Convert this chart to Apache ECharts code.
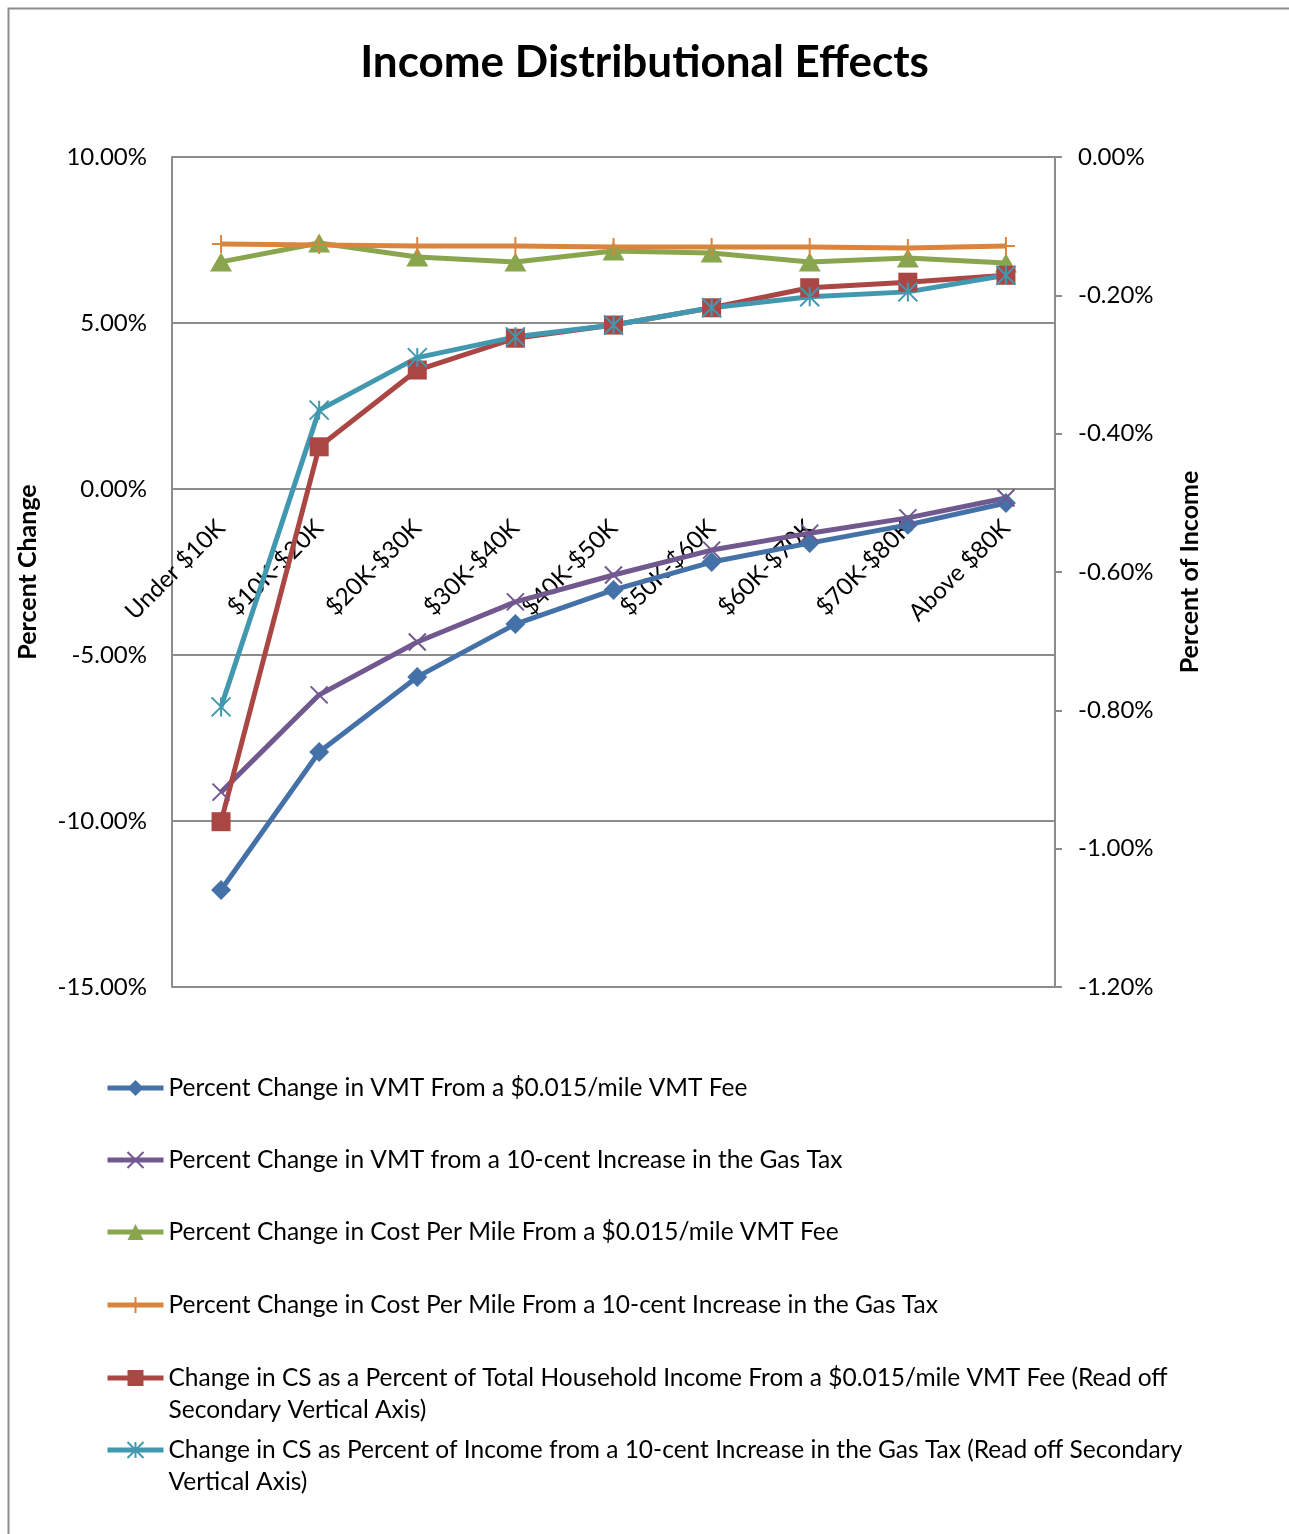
<!DOCTYPE html>
<html>
<head>
<meta charset="utf-8">
<title>Income Distributional Effects</title>
<script src="https://cdn.jsdelivr.net/npm/echarts@6/dist/echarts.min.js"></script>
<style>
  html, body { margin: 0; padding: 0; background: #ffffff; }
  #chart { width: 1289px; height: 1534px; }
</style>
</head>
<body>
<div id="chart"></div>
<script>
// Income brackets on the category axis
const categories = ['Under $10K', '$10K-$20K', '$20K-$30K', '$30K-$40K', '$40K-$50K',
  '$50K-$60K', '$60K-$70K', '$70K-$80K', 'Above $80K'];

// Primary axis series (percent change)
const vmtChangeVmtFee = [-12.08, -7.92, -5.66, -4.07, -3.04, -2.20, -1.63, -1.08, -0.42];
const vmtChangeGasTax = [-9.13, -6.20, -4.61, -3.40, -2.59, -1.84, -1.33, -0.87, -0.27];
const costPerMileVmtFee = [6.84, 7.41, 6.99, 6.84, 7.17, 7.11, 6.84, 6.96, 6.81];
const costPerMileGasTax = [7.38, 7.35, 7.32, 7.32, 7.29, 7.29, 7.29, 7.26, 7.32];

// Secondary axis series (percent of income)
const csIncomeVmtFee = [-0.961, -0.419, -0.308, -0.262, -0.243, -0.218, -0.189, -0.181, -0.171];
const csIncomeGasTax = [-0.795, -0.366, -0.290, -0.260, -0.243, -0.218, -0.202, -0.195, -0.171];

// Axis ranges
const leftAxis = { min: -15, max: 10, interval: 5 };
const rightAxis = { min: -1.2, max: 0, interval: 0.2 };

const names = [
  'Percent Change in VMT From a $0.015/mile VMT Fee',
  'Percent Change in VMT from a 10-cent Increase in the Gas Tax',
  'Percent Change in Cost Per Mile From a $0.015/mile VMT Fee',
  'Percent Change in Cost Per Mile From a 10-cent Increase in the Gas Tax',
  'Change in CS as a Percent of Total Household Income From a $0.015/mile VMT Fee (Read off Secondary Vertical Axis)',
  'Change in CS as Percent of Income from a 10-cent Increase in the Gas Tax (Read off Secondary Vertical Axis)'
];
// Where the two long legend entries wrap (leading blank line keeps the
// icon level with the first line of text)
const wrapped = {
  4: '\nChange in CS as a Percent of Total Household Income From a $0.015/mile VMT Fee (Read off\nSecondary Vertical Axis)',
  5: '\nChange in CS as Percent of Income from a 10-cent Increase in the Gas Tax (Read off Secondary\nVertical Axis)'
};

const FONT = 'Lato';
const GRID = '#8c8c8c';
const colors = ['#4472a8', '#71588f', '#89a54e', '#db843d', '#aa4643', '#4198af'];

const crossPath = 'path://M0,0L10,10M10,0L0,10';
const plusPath = 'path://M5,0L5,10M0,5L10,5';
const starPath = 'path://M0,0L10,10M10,0L0,10M5,0L5,10';

// Plot area
const plot = { left: 172, top: 157, right: 1055, bottom: 987 };
const plotHeight = plot.bottom - plot.top;
// Category axis crosses the primary value axis at zero
const zeroOffset = -(0 - leftAxis.min) / (leftAxis.max - leftAxis.min) * plotHeight;

function lineSeries(i, data, yIdx, symbol, size, strokeOnly) {
  return {
    name: names[i],
    type: 'line',
    yAxisIndex: yIdx,
    data: data,
    symbol: symbol,
    symbolSize: size,
    showAllSymbol: true,
    color: colors[i],
    lineStyle: { color: colors[i], width: 5 },
    itemStyle: strokeOnly
      ? { color: colors[i], borderColor: colors[i], borderWidth: 2 }
      : { color: colors[i] },
    emphasis: { disabled: true },
    animation: false
  };
}

// One legend block per entry so each row sits at its own height
const legendRows = [1088, 1160, 1232, 1305, 1378, 1450];
const LEGEND_LINE = 32;
const legends = names.map((n, i) => {
  const twoLine = wrapped[i] !== undefined;
  return {
    data: [n],
    orient: 'vertical',
    left: 105,
    top: legendRows[i] - (twoLine ? LEGEND_LINE * 1.5 : LEGEND_LINE / 2),
    padding: 0,
    itemWidth: 56,
    itemHeight: 20,
    itemGap: 0,
    selectedMode: false,
    lineStyle: { width: 5 },
    formatter: (name) => (twoLine ? wrapped[i] : name),
    textStyle: {
      fontFamily: FONT,
      fontSize: 24.5,
      color: '#000',
      lineHeight: LEGEND_LINE
    }
  };
});

const chart = echarts.init(document.getElementById('chart'), null, { renderer: 'canvas' });
chart.setOption({
  backgroundColor: '#ffffff',
  animation: false,
  title: {
    text: 'Income Distributional Effects',
    left: 'center',
    top: 36,
    textStyle: { fontFamily: FONT, fontWeight: 'bold', fontSize: 44, color: '#000' }
  },
  graphic: [{
    type: 'rect',
    left: 6, top: 6,
    shape: { width: 1300, height: 1545 },
    style: { fill: 'none', stroke: '#8c8c8c', lineWidth: 2 },
    silent: true
  }],
  legend: legends,
  grid: {
    left: plot.left, right: 1289 - plot.right, top: plot.top, bottom: 1534 - plot.bottom,
    containLabel: false
  },
  xAxis: {
    type: 'category',
    data: categories,
    boundaryGap: true,
    position: 'bottom',
    offset: zeroOffset,
    axisLine: { show: true, onZero: false, lineStyle: { color: GRID, width: 2 } },
    axisTick: { show: false },
    axisLabel: {
      interval: 0, rotate: 45, margin: 35,
      fontFamily: FONT, fontSize: 24, color: '#000'
    },
    splitLine: { show: false }
  },
  yAxis: [{
    type: 'value',
    position: 'left',
    min: leftAxis.min, max: leftAxis.max, interval: leftAxis.interval,
    name: 'Percent Change',
    nameLocation: 'middle',
    nameRotate: 90,
    nameGap: 132,
    nameTextStyle: { fontFamily: FONT, fontWeight: 'bold', fontSize: 25, color: '#000' },
    axisLine: { show: true, lineStyle: { color: GRID, width: 2 } },
    axisTick: { show: false },
    axisLabel: {
      margin: 25, fontFamily: FONT, fontSize: 24, color: '#000',
      formatter: (v) => v.toFixed(2) + '%'
    },
    splitLine: { show: true, lineStyle: { color: GRID, width: 2 } }
  }, {
    type: 'value',
    position: 'right',
    min: rightAxis.min, max: rightAxis.max, interval: rightAxis.interval,
    name: 'Percent of Income',
    nameLocation: 'middle',
    nameRotate: 90,
    nameGap: 122,
    nameTextStyle: { fontFamily: FONT, fontWeight: 'bold', fontSize: 25, color: '#000' },
    axisLine: { show: true, lineStyle: { color: GRID, width: 2 } },
    axisTick: { show: true, inside: false, length: 7, lineStyle: { color: GRID, width: 2 } },
    axisLabel: {
      margin: 23, fontFamily: FONT, fontSize: 24, color: '#000',
      formatter: (v) => v.toFixed(2) + '%'
    },
    splitLine: { show: false }
  }],
  series: [
    lineSeries(0, vmtChangeVmtFee, 0, 'diamond', 20, false),
    lineSeries(1, vmtChangeGasTax, 0, crossPath, 17, true),
    lineSeries(2, costPerMileVmtFee, 0, 'triangle', [22, 19], false),
    lineSeries(3, costPerMileGasTax, 0, plusPath, 18, true),
    lineSeries(4, csIncomeVmtFee, 1, 'rect', 19, false),
    lineSeries(5, csIncomeGasTax, 1, starPath, 19, true)
  ]
});
</script>
</body>
</html>
